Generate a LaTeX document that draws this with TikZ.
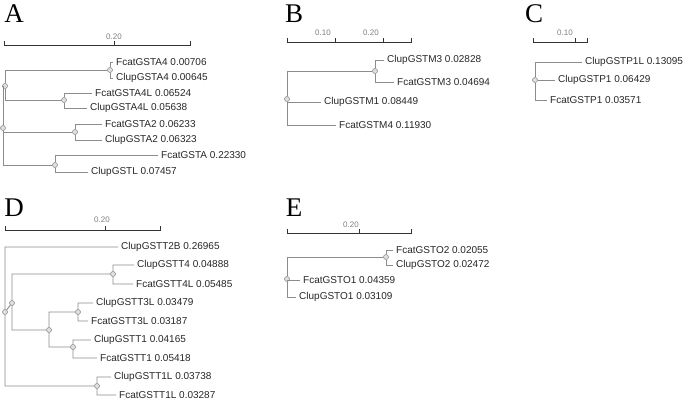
\documentclass[tikz,border=0pt]{standalone}
\usepackage{fontspec}
\setmainfont{Liberation Sans}
\newfontfamily\titlefont{Liberation Serif}
\begin{document}
\begin{tikzpicture}[x=1pt,y=-1pt,
  br/.style={draw=black!45,line width=0.9pt},
  scl/.style={draw=black!80,line width=0.7pt},
  inode/.style={circle,draw=black!45,fill=black!12,line width=0.6pt,inner sep=0pt,minimum size=5pt},
  leaf/.style={anchor=west,inner xsep=3pt,inner ysep=0pt,font=\fontsize{10}{10}\selectfont,text=black!85},
  ttl/.style={anchor=center,font=\titlefont\fontsize{27}{27}\selectfont},
  sl/.style={font=\fontsize{8}{8}\selectfont,text=black!50}]
\useasboundingbox (0,0) rectangle (685,400);
% titles
\node[ttl] (tA) at (14,14) {A};
\node[ttl] (tB) at (294,14) {B};
\node[ttl] (tC) at (534,14) {C};
\node[ttl] (tD) at (14,208) {D};
\node[ttl] (tE) at (294,208) {E};
% ---------- A
\draw[scl] (4,41) -- (4,45) -- (190,45) -- (190,41) (114,45) -- (114,41);
\node[sl] (sA) at (114,37) {0.20};
\node[inode] (a0) at (3,128) {};
\node[inode] (a1) at (5,86) {};
\node[inode] (a2) at (110,70) {};
\node[inode] (a3) at (64,100) {};
\node[inode] (a4) at (75,132) {};
\node[inode] (a5) at (55,165) {};
\node[leaf] (la1) at (113,62) {FcatGSTA4 0.00706};
\node[leaf] (la2) at (113,78) {ClupGSTA4 0.00645};
\node[leaf] (la3) at (92,93) {FcatGSTA4L 0.06524};
\node[leaf] (la4) at (87,108) {ClupGSTA4L 0.05638};
\node[leaf] (la5) at (102,124) {FcatGSTA2 0.06233};
\node[leaf] (la6) at (102,140) {ClupGSTA2 0.06323};
\node[leaf] (la7) at (158,155) {FcatGSTA 0.22330};
\node[leaf] (la8) at (88,172) {ClupGSTL 0.07457};
\draw[br] (a0) |- (a1) (a0) |- (a4) (a0) |- (a5)
  (a1) |- (a2) (a1) |- (a3)
  (a2) |- (la1) (a2) |- (la2) (a3) |- (la3) (a3) |- (la4)
  (a4) |- (la5) (a4) |- (la6) (a5) |- (la7) (a5) |- (la8);
% ---------- B
\draw[scl] (287,38) -- (287,42) -- (411,42) -- (411,38) (335,42) -- (335,38) (383,42) -- (383,38);
\node[sl] (sB1) at (323,33) {0.10};
\node[sl] (sB2) at (371,33) {0.20};
\node[inode] (b0) at (287,99) {};
\node[inode] (b1) at (375,71) {};
\node[leaf] (lb1) at (384,60) {ClupGSTM3 0.02828};
\node[leaf] (lb2) at (394,82) {FcatGSTM3 0.04694};
\node[leaf] (lb3) at (321,102) {ClupGSTM1 0.08449};
\node[leaf] (lb4) at (336,125) {FcatGSTM4 0.11930};
\draw[br] (b0) |- (b1) (b0) |- (lb4) (b0.south) ++(0,0) (287,102) -- (lb3.west)
  (b1) |- (lb1) (b1) |- (lb2);
% ---------- C
\draw[scl] (533,38) -- (533,42) -- (587,42) -- (587,38) (575,42) -- (575,38);
\node[sl] (sC) at (565,33) {0.10};
\node[inode] (c0) at (535,80) {};
\node[leaf] (lc1) at (582,62) {ClupGSTP1L 0.13095};
\node[leaf] (lc2) at (555,80) {ClupGSTP1 0.06429};
\node[leaf] (lc3) at (547,100) {FcatGSTP1 0.03571};
\draw[br] (c0) |- (lc1) (c0) -- (lc2) (c0) |- (lc3);
% ---------- D
\draw[scl] (5,226) -- (5,230) -- (160,230) -- (160,226) (105,230) -- (105,226);
\node[sl] (sD) at (102,220) {0.20};
\node[inode] (d0) at (5,312) {};
\node[inode] (d1) at (12,303) {};
\node[inode] (d2) at (113,274) {};
\node[inode] (d3) at (49,330) {};
\node[inode] (d4) at (78,312) {};
\node[inode] (d5) at (73,347) {};
\node[inode] (d6) at (97,386) {};
\node[leaf] (ld1) at (118,247) {ClupGSTT2B 0.26965};
\node[leaf] (ld2) at (134,265) {ClupGSTT4 0.04888};
\node[leaf] (ld3) at (133,284) {FcatGSTT4L 0.05485};
\node[leaf] (ld4) at (93,303) {ClupGSTT3L 0.03479};
\node[leaf] (ld5) at (88,321) {FcatGSTT3L 0.03187};
\node[leaf] (ld6) at (91,340) {ClupGSTT1 0.04165};
\node[leaf] (ld7) at (97,358) {FcatGSTT1 0.05418};
\node[leaf] (ld8) at (111,377) {ClupGSTT1L 0.03738};
\node[leaf] (ld9) at (116,395) {FcatGSTT1L 0.03287};
\draw[br] (d0) |- (ld1) (d0) |- (d6) (d0) -- (d1)
  (d1) |- (d2) (d1) |- (d3) (d2) |- (ld2) (d2) |- (ld3)
  (d3) |- (d4) (d3) |- (d5) (d4) |- (ld4) (d4) |- (ld5)
  (d5) |- (ld6) (d5) |- (ld7) (d6) |- (ld8) (d6) |- (ld9);
% ---------- E
\draw[scl] (287,229) -- (287,233) -- (411,233) -- (411,229) (359,233) -- (359,229);
\node[sl] (sE) at (351,225) {0.20};
\node[inode] (e0) at (287,279) {};
\node[inode] (e1) at (386,257) {};
\node[leaf] (le1) at (393,250) {FcatGSTO2 0.02055};
\node[leaf] (le2) at (393,265) {ClupGSTO2 0.02472};
\node[leaf] (le3) at (300,280) {FcatGSTO1 0.04359};
\node[leaf] (le4) at (296,297) {ClupGSTO1 0.03109};
\draw[br] (e0) |- (e1) (e0) |- (le4) (287,280) -- (le3.west)
  (e1) |- (le1) (e1) |- (le2);
\end{tikzpicture}
\end{document}
